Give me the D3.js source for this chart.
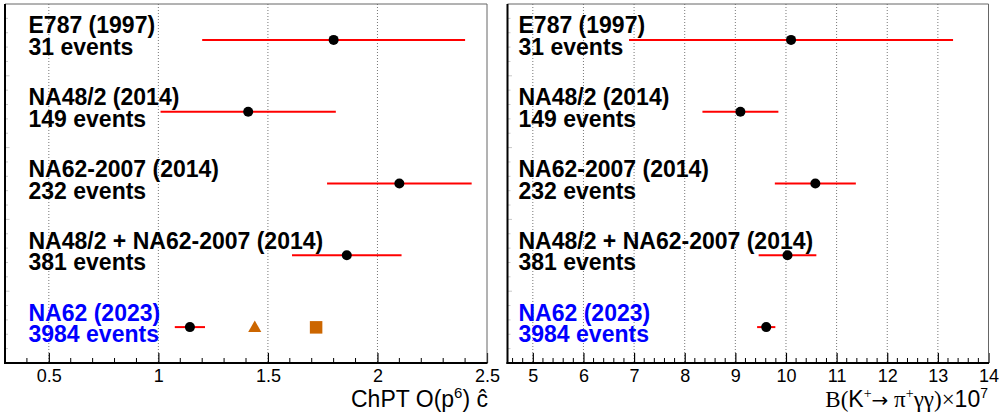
<!DOCTYPE html>
<html><head><meta charset="utf-8">
<script src="https://cdn.jsdelivr.net/npm/d3@7"></script>
<style>html,body{margin:0;padding:0;background:#fff;}svg{display:block;}</style>
</head><body>
<svg id="c" width="1003" height="420"></svg>
<script>
// ---- data ----
const experiments = ["E787 (1997)", "NA48/2 (2014)", "NA62-2007 (2014)", "NA48/2 + NA62-2007 (2014)", "NA62 (2023)"];
const eventCounts = ["31 events", "149 events", "232 events", "381 events", "3984 events"];
const labelColors = ["#000", "#000", "#000", "#000", "#0000ff"];
const cHat = [1.80, 1.41, 2.10, 1.86, 1.144];
const cHatErr = [0.60, 0.40, 0.33, 0.25, 0.069];
const branching = [10.1, 9.10, 10.58, 10.03, 9.61];   // x1e-7
const branchingErr = [3.2, 0.75, 0.80, 0.57, 0.18];
const cHatTriangle = [1.44];   // NA62 (2023) alternative
const cHatSquare = [1.72];
const leftTicks = [0.5, 1, 1.5, 2, 2.5];
const rightTicks = [5, 6, 7, 8, 9, 10, 11, 12, 13, 14];

(function () {
const svg = d3.select("#c");
const yTop = 4, yBot = 363;
const y = d3.scaleLinear().domain([0, 5]).range([yBot, yTop]);
const rowY = i => y(4.5 - i);

function panel(x0, x1, domain, ticks, minorStep, values, errs, labelX) {
  const x = d3.scaleLinear().domain(domain).range([x0, x1]);
  const g = svg.append("g");
  // grid
  g.selectAll("line.grid").data(ticks.filter(t => x(t) > x0 + 1 && x(t) < x1 - 1)).join("line")
    .attr("x1", d => x(d)).attr("x2", d => x(d)).attr("y1", yTop).attr("y2", yBot)
    .attr("stroke", "#777").attr("stroke-width", 1).attr("stroke-dasharray", "1,2");
  // minor ticks
  const minors = d3.range(Math.ceil(domain[0] / minorStep - 1e-6) * minorStep, domain[1] + 1e-9, minorStep)
    .filter(v => !ticks.some(t => Math.abs(t - v) < 1e-6) && x(v) > x0 + 1);
  g.selectAll("line.minor").data(minors).join("line")
    .attr("x1", d => x(d)).attr("x2", d => x(d)).attr("y1", yBot).attr("y2", yBot - 5)
    .attr("stroke", "#000").attr("stroke-width", 1);
  // axis with major ticks and labels
  const ax = d3.axisBottom(x).tickValues(ticks).tickSizeInner(-10).tickSizeOuter(0).tickPadding(0)
    .tickFormat(d3.format("~g"));
  const axg = g.append("g").attr("transform", `translate(0,${yBot})`).call(ax);
  axg.select(".domain").remove();
  axg.selectAll(".tick line").attr("stroke", "#000").attr("stroke-width", 1.2);
  axg.selectAll(".tick text").attr("y", 19).attr("dy", 0)
    .attr("font-family", "Liberation Sans, Arial, sans-serif").attr("font-size", 18).attr("fill", "#000");
  // y ticks (faint)
  const yMin = d3.range(0.2, 5, 0.2);
  g.selectAll("line.yt").data(yMin).join("line")
    .attr("x1", x0).attr("x2", d => x0 + (Math.abs(d - Math.round(d)) < 1e-6 ? 4.5 : 3))
    .attr("y1", d => y(d)).attr("y2", d => y(d)).attr("stroke", "#c8c8c8").attr("stroke-width", 1);
  // frame
  g.append("line").attr("x1", x0).attr("x2", x1).attr("y1", yTop).attr("y2", yTop).attr("stroke", "#666").attr("stroke-width", 1);
  g.append("line").attr("x1", x1).attr("x2", x1).attr("y1", yTop).attr("y2", yBot).attr("stroke", "#666").attr("stroke-width", 1);
  g.append("line").attr("x1", x0).attr("x2", x0).attr("y1", yTop).attr("y2", yBot + 1).attr("stroke", "#000").attr("stroke-width", 2);
  g.append("line").attr("x1", x0 - 1).attr("x2", x1 + 0.5).attr("y1", yBot).attr("y2", yBot).attr("stroke", "#000").attr("stroke-width", 2);
  // labels
  experiments.forEach((name, i) => {
    const t = g.append("text").attr("x", labelX).attr("y", rowY(i) - 6.5)
      .attr("font-family", "Liberation Sans, Arial, sans-serif").attr("font-weight", "bold")
      .attr("font-size", 23).attr("fill", labelColors[i]);
    t.append("tspan").attr("x", labelX).text(name);
    t.append("tspan").attr("x", labelX).attr("dy", 21.5).text(eventCounts[i]);
  });
  // error bars
  g.selectAll("line.err").data(values).join("line")
    .attr("x1", (d, i) => x(d - errs[i])).attr("x2", (d, i) => x(d + errs[i]))
    .attr("y1", (d, i) => rowY(i)).attr("y2", (d, i) => rowY(i))
    .attr("stroke", "#ff0000").attr("stroke-width", 2);
  g.selectAll("circle.pt").data(values).join("circle")
    .attr("cx", d => x(d)).attr("cy", (d, i) => rowY(i)).attr("r", 5).attr("fill", "#000");
  return x;
}

const xl = panel(5, 487, [0.3, 2.5], leftTicks, 0.1, cHat, cHatErr, 28.5);
const xr = panel(507.5, 988.5, [4.5, 14], rightTicks, 0.2, branching, branchingErr, 518.5);

// extra markers in NA62 (2023) row
const ry = rowY(4);
svg.selectAll("path.tri").data(cHatTriangle).join("path")
  .attr("d", d3.symbol().type(d3.symbolTriangle).size(75))
  .attr("transform", d => `translate(${xl(d)},${ry + 1})`).attr("fill", "#cc6600");
svg.selectAll("rect.sq").data(cHatSquare).join("rect")
  .attr("x", d => xl(d) - 6.25).attr("y", ry - 6).attr("width", 12.5).attr("height", 12.5).attr("fill", "#cc6600");

// axis titles
const lt = svg.append("text").attr("x", 488).attr("y", 407).attr("text-anchor", "end")
  .attr("font-family", "Liberation Sans, Arial, sans-serif").attr("font-size", 23).attr("fill", "#000");
lt.append("tspan").text("ChPT O(p");
lt.append("tspan").attr("font-size", 15).attr("dy", -9).text("6");
lt.append("tspan").attr("dy", 9).text(") ĉ");

const rt = svg.append("text").attr("x", 988).attr("y", 407).attr("text-anchor", "end")
  .attr("font-family", "Liberation Serif, Times New Roman, serif").attr("font-size", 23).attr("fill", "#000");
rt.append("tspan").text("B(");
rt.append("tspan").attr("font-family", "Liberation Sans, Arial, sans-serif").text("K");
rt.append("tspan").attr("font-size", 14).attr("dy", -9).text("+");
rt.append("tspan").attr("dy", 9).attr("font-family", "DejaVu Sans, sans-serif").attr("font-size", 20).text("→");
rt.append("tspan").text(" π");
rt.append("tspan").attr("font-size", 14).attr("dy", -9).text("+");
rt.append("tspan").attr("dy", 9).text("γγ)×");
rt.append("tspan").attr("font-family", "Liberation Sans, Arial, sans-serif").text("10");
rt.append("tspan").attr("font-family", "Liberation Sans, Arial, sans-serif").attr("font-size", 14).attr("dy", -9).text("7");
})();
</script>
</body></html>
